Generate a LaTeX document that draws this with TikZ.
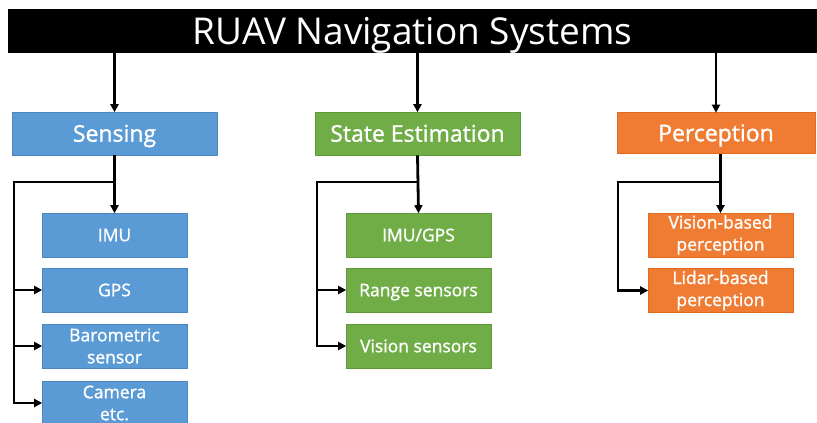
\documentclass[tikz,border=0pt]{standalone}
\usepackage{fontspec}
\setmainfont{Open Sans}
\newfontfamily\boxfont[FakeBold=1.2]{Open Sans}
\usetikzlibrary{arrows.meta}
\definecolor{sblue}{HTML}{5B9BD5}
\definecolor{sblueb}{HTML}{4A86BF}
\definecolor{sgreen}{HTML}{70AD47}
\definecolor{sgreenb}{HTML}{5F9A3A}
\definecolor{sorange}{HTML}{F07C34}
\definecolor{sorangeb}{HTML}{E06A20}
\tikzset{
  box/.style={inner sep=0pt, align=center, text=white, line width=0.6pt},
  oneline/.style={text height=#1, text depth=0pt},
  headbox/.style={box, oneline=16.4pt, minimum width=205pt, minimum height=43pt, font=\boxfont\fontsize{23}{26}\selectfont},
  leafbox/.style={box, minimum width=145pt, minimum height=44pt, font=\boxfont\fontsize{17.5}{22}\selectfont},
  single/.style={oneline=12.5pt},
  bluebox/.style={fill=sblue, draw=sblueb},
  greenbox/.style={fill=sgreen, draw=sgreenb},
  orangebox/.style={fill=sorange, draw=sorangeb},
  ln/.style={line width=2.8pt, black},
  arr/.style={ln, -{Triangle[length=8pt,width=8pt]}, shorten >=-0.5pt},
}
\begin{document}
\begin{tikzpicture}[x=1pt,y=-1pt]
\useasboundingbox (0,0) rectangle (817,423);
\clip (0,0) rectangle (817,423);
% title
\node[fill=black, text=white, inner sep=0pt, oneline=26.4pt, minimum width=809pt, minimum height=44pt, font=\fontsize{37}{40}\selectfont] (title) at (412.5,31) {RUAV Navigation Systems};
% heads
\node[headbox, bluebox] (sensing) at (114.5,133.5) {Sensing};
\node[headbox, greenbox] (state) at (417.5,133.5) {State Estimation};
\node[headbox, orangebox, minimum width=198pt, minimum height=41pt] (perc) at (716,133) {Perception};
% sensing leaves
\node[leafbox, single, bluebox] (imu) at (114.5,235) {IMU};
\node[leafbox, single, bluebox] (gps) at (114.5,290) {GPS};
\node[leafbox, bluebox] (baro) at (114.5,346) {Barometric\\sensor};
\node[leafbox, bluebox] (cam) at (114.5,403) {Camera\\etc.};
% state leaves
\node[leafbox, single, greenbox] (imugps) at (418.5,235) {IMU/GPS};
\node[leafbox, single, greenbox] (range) at (418.5,290) {Range sensors};
\node[leafbox, single, greenbox] (vision) at (418.5,346) {Vision sensors};
% perception leaves
\node[leafbox, orangebox] (vbp) at (720.5,235) {Vision-based\\perception};
\node[leafbox, orangebox] (lbp) at (720.5,290.5) {Lidar-based\\perception};
% arrows from title
\draw[arr] (title.south -| sensing.north) -- (sensing.north);
\draw[arr] (title.south -| state.north) -- (state.north);
\draw[arr] (title.south -| perc.north) -- (perc.north);
% sensing tree
\coordinate (sj) at (114.5,182);
\coordinate (sl) at (14,182);
\draw[arr] (sensing.south) -- (imu.north);
\draw[arr] (sj) -- (sl) |- (gps.west);
\draw[arr] (sl) |- (baro.west);
\draw[arr] (sl) |- (cam.west);
% state tree
\coordinate (tj) at (417.5,182);
\coordinate (tl) at (317,182);
\draw[arr] (state.south) -- (imugps.north);
\draw[arr] (tj) -- (tl) |- (range.west);
\draw[arr] (tl) |- (vision.west);
% perception tree
\coordinate (pj) at (720.5,182);
\coordinate (pl) at (618,182);
\draw[arr] (perc.south -| pj) -- (vbp.north);
\draw[arr] (pj) -- (pl) |- (lbp.west);
\end{tikzpicture}
\end{document}
